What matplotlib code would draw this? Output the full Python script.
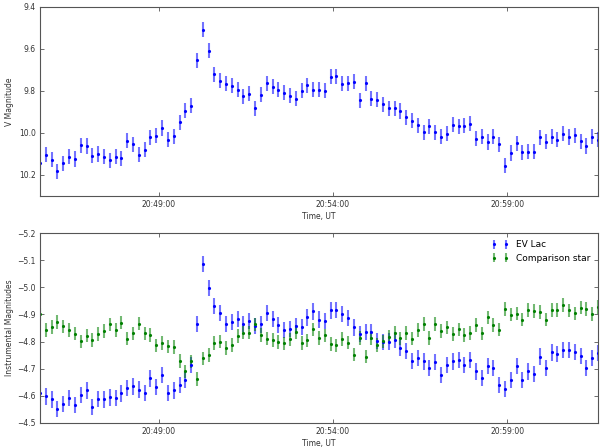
import datetime as dt

import matplotlib
matplotlib.use('Agg')
import matplotlib.pyplot as plt
import matplotlib.dates as mdates

# observation times, 10 s cadence
t_start = dt.datetime(2015, 8, 20, 20, 45, 36)
n_obs = 97
times = [t_start + dt.timedelta(seconds=10 * i) for i in range(n_obs)]

# calibrated V magnitude of EV Lac
v_mag = [10.141, 10.103, 10.128, 10.183, 10.144, 10.113, 10.124, 10.058, 10.062, 10.108,
         10.100, 10.113, 10.130, 10.113, 10.120, 10.036, 10.054, 10.103, 10.079, 10.020,
         10.014, 9.976, 10.031, 10.016, 9.949, 9.893, 9.871, 9.654, 9.508, 9.608,
         9.721, 9.751, 9.766, 9.774, 9.794, 9.825, 9.812, 9.882, 9.818, 9.764,
         9.779, 9.794, 9.809, 9.823, 9.836, 9.799, 9.772, 9.793, 9.793, 9.799,
         9.732, 9.729, 9.766, 9.764, 9.756, 9.844, 9.764, 9.836, 9.842, 9.863,
         9.883, 9.882, 9.895, 9.925, 9.941, 9.963, 9.996, 9.969, 9.996, 10.017,
         10.003, 9.961, 9.969, 9.966, 9.955, 10.028, 10.017, 10.043, 10.017, 10.054,
         10.155, 10.095, 10.049, 10.092, 10.090, 10.090, 10.020, 10.041, 10.017, 10.031,
         10.004, 10.019, 10.011, 10.039, 10.062, 10.017, 10.031]
v_err = 0.036

# instrumental magnitudes
ev_lac = [-4.610, -4.598, -4.587, -4.551, -4.571, -4.592, -4.566, -4.602, -4.620, -4.560,
          -4.589, -4.587, -4.594, -4.591, -4.609, -4.630, -4.635, -4.623, -4.610, -4.664,
          -4.632, -4.678, -4.610, -4.620, -4.639, -4.658, -4.715, -4.866, -5.087, -4.997,
          -4.931, -4.904, -4.866, -4.872, -4.882, -4.866, -4.877, -4.858, -4.863, -4.906,
          -4.884, -4.861, -4.842, -4.847, -4.858, -4.854, -4.889, -4.911, -4.881, -4.877,
          -4.915, -4.917, -4.901, -4.887, -4.852, -4.827, -4.836, -4.836, -4.802, -4.798,
          -4.800, -4.806, -4.776, -4.764, -4.728, -4.739, -4.727, -4.702, -4.726, -4.678,
          -4.714, -4.727, -4.733, -4.715, -4.733, -4.690, -4.666, -4.709, -4.702, -4.641,
          -4.625, -4.659, -4.711, -4.659, -4.690, -4.680, -4.745, -4.702, -4.760, -4.755,
          -4.769, -4.770, -4.761, -4.748, -4.702, -4.739, -4.758]
ev_lac_err = 0.030

comp_star = [-4.900, -4.842, -4.854, -4.872, -4.856, -4.842, -4.829, -4.801, -4.822, -4.806,
             -4.827, -4.840, -4.863, -4.842, -4.870, -4.811, -4.830, -4.866, -4.830, -4.825,
             -4.786, -4.795, -4.782, -4.779, -4.728, -4.690, -4.727, -4.663, -4.738, -4.750,
             -4.795, -4.800, -4.776, -4.788, -4.820, -4.833, -4.833, -4.863, -4.825, -4.811,
             -4.806, -4.798, -4.793, -4.808, -4.835, -4.795, -4.804, -4.845, -4.813, -4.823,
             -4.791, -4.786, -4.809, -4.796, -4.752, -4.814, -4.745, -4.813, -4.788, -4.801,
             -4.818, -4.833, -4.812, -4.831, -4.811, -4.842, -4.865, -4.813, -4.865, -4.838,
             -4.852, -4.828, -4.845, -4.825, -4.831, -4.862, -4.830, -4.889, -4.862, -4.844,
             -4.920, -4.899, -4.903, -4.881, -4.916, -4.912, -4.908, -4.881, -4.916, -4.916,
             -4.935, -4.915, -4.904, -4.925, -4.921, -4.901, -4.928]
comp_err = 0.025

fs = 5.5
plt.rcParams['font.size'] = fs

fig = plt.figure(figsize=(6.0, 4.47), dpi=100)
ax1 = fig.add_axes([40/600., 1-196/447., 558/600., 189/447.])
ax2 = fig.add_axes([40/600., 1-423/447., 558/600., 190/447.])


def style(ax, ylab):
    ax.tick_params(direction='in', top=True, right=True, labelsize=fs,
                   labelcolor='#333333', length=3, width=0.6, color='#555555', pad=3)
    for s in ax.spines.values():
        s.set_color('#555555')
        s.set_linewidth(0.8)
    ax.xaxis.set_major_locator(mdates.MinuteLocator(byminute=range(4, 60, 5)))
    ax.xaxis.set_major_formatter(mdates.DateFormatter('%H:%M:%S'))
    ax.set_xlim(times[0], times[-1])
    ax.set_xlabel('Time, UT', fontsize=fs, color='#333333')
    ax.set_ylabel(ylab, fontsize=fs, color='#333333')
    h = ax.get_position().height * 447
    ax.xaxis.set_label_coords(0.5, -16. / h)
    ax.yaxis.set_label_coords(-26. / 558, 0.5)


ekw = dict(fmt='.', markersize=2.5, elinewidth=1.5, capsize=0)

ax1.errorbar(times, v_mag, yerr=v_err, color='b', ecolor=(0, 0, 1, 0.55), **ekw)
ax1.set_ylim(10.3, 9.4)
ax1.set_yticks([9.4, 9.6, 9.8, 10.0, 10.2])
style(ax1, 'V Magnitude')

ax2.errorbar(times, ev_lac, yerr=ev_lac_err, color='b', ecolor=(0, 0, 1, 0.55),
             label='EV Lac', **ekw)
ax2.errorbar(times, comp_star, yerr=comp_err, color='g', ecolor=(0, 0.5, 0, 0.55),
             label='Comparison star', **ekw)
ax2.set_ylim(-4.5, -5.2)
style(ax2, 'Instrumental Magnitudes')
ax2.legend(loc='upper right', numpoints=2, frameon=False, fontsize=6.5,
           handlelength=2.0, borderaxespad=0.4)

fig.savefig('out.png', dpi=100)
